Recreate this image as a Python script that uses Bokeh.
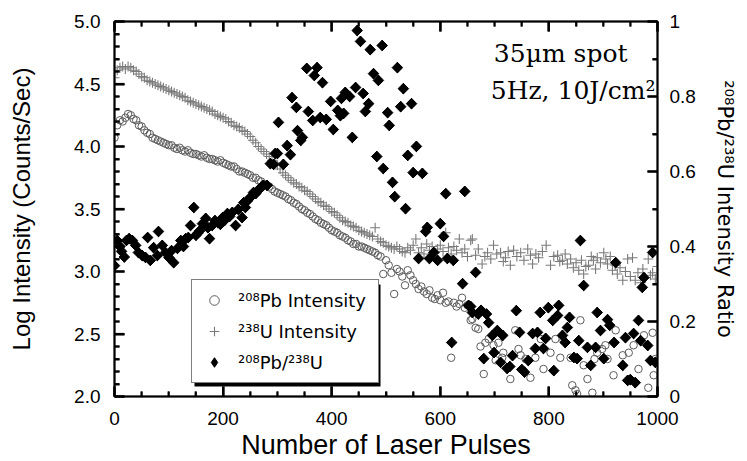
import math
from bokeh.plotting import figure
from bokeh.models import (Range1d, LinearAxis, FixedTicker, NumeralTickFormatter,
                          Legend, LegendItem, Label, BoxAnnotation, Title, ColumnDataSource)
from bokeh.embed import file_html
from bokeh.resources import INLINE

# ---------------- data ----------------
pb_pulse = [0, 5, 10, 15, 20, 25, 30, 35, 40, 45,
            50, 55, 60, 65, 70, 75, 80, 85, 90, 95,
            100, 105, 110, 115, 120, 125, 130, 135, 140, 145,
            150, 155, 160, 165, 170, 175, 180, 185, 190, 195,
            200, 205, 210, 215, 220, 225, 230, 235, 240, 245,
            250, 255, 260, 265, 270, 275, 280, 285, 290, 295,
            300, 305, 310, 315, 320, 325, 330, 335, 340, 345,
            350, 355, 360, 365, 370, 375, 380, 385, 390, 395,
            400, 405, 410, 415, 420, 425, 430, 435, 440, 445,
            450, 455, 460, 465, 470, 475, 480, 485, 490, 495,
            500, 505, 510, 515, 520, 525, 530, 535, 540, 545,
            550, 555, 560, 565, 570, 575, 580, 585, 590, 595,
            600, 605, 610, 615, 620, 625, 630, 635, 640, 645,
            650, 656, 659, 665, 670, 674, 680, 683, 689, 698,
            702, 707, 714, 716, 729, 738, 744, 748, 757, 766,
            775, 785, 790, 803, 812, 821, 827, 840, 843, 849,
            852, 858, 864, 871, 880, 884, 889, 898, 904, 908,
            919, 923, 936, 947, 956, 965, 975, 983, 991, 993,
            996]
pb_log = [4.07, 4.17, 4.21, 4.20, 4.23, 4.26, 4.25, 4.22, 4.21, 4.17,
          4.16, 4.13, 4.11, 4.10, 4.07, 4.06, 4.05, 4.04, 4.03, 4.02,
          4.01, 4.01, 3.99, 3.98, 3.99, 3.97, 3.96, 3.97, 3.95, 3.94,
          3.94, 3.93, 3.92, 3.93, 3.91, 3.90, 3.90, 3.89, 3.88, 3.89,
          3.87, 3.86, 3.85, 3.84, 3.84, 3.82, 3.80, 3.80, 3.79, 3.78,
          3.77, 3.75, 3.75, 3.73, 3.72, 3.70, 3.69, 3.68, 3.66, 3.64,
          3.63, 3.62, 3.61, 3.60, 3.58, 3.57, 3.55, 3.54, 3.52, 3.50,
          3.49, 3.47, 3.46, 3.44, 3.42, 3.41, 3.39, 3.38, 3.37, 3.35,
          3.33, 3.32, 3.31, 3.29, 3.28, 3.27, 3.25, 3.24, 3.22, 3.22,
          3.20, 3.20, 3.19, 3.18, 3.17, 3.16, 3.15, 3.13, 3.12, 2.98,
          3.09, 3.05, 2.99, 2.82, 3.02, 3.00, 2.96, 2.89, 3.01, 2.97,
          2.93, 2.90, 2.86, 2.88, 2.84, 2.82, 2.85, 2.79, 2.78, 2.81,
          2.77, 2.83, 2.75, 2.76, 2.31, 2.75, 2.72, 2.74, 2.79, 2.71,
          2.73, 2.61, 2.62, 2.55, 2.54, 2.40, 2.18, 2.43, 2.46, 2.41,
          2.29, 2.43, 2.31, 2.35, 2.14, 2.53, 2.38, 2.33, 2.30, 2.15,
          2.31, 2.46, 2.22, 2.35, 2.46, 2.31, 2.45, 2.31, 2.09, 2.05,
          2.02, 2.61, 2.25, 2.14, 2.03, 2.30, 2.35, 2.38, 2.41, 2.30,
          2.17, 2.53, 2.33, 2.35, 2.41, 2.22, 2.49, 2.07, 2.51, 2.17,
          2.30]

u_pulse = [0, 5, 10, 15, 20, 25, 30, 35, 40, 45,
           50, 55, 60, 65, 70, 75, 80, 85, 90, 95,
           100, 105, 110, 115, 120, 125, 130, 135, 140, 145,
           150, 155, 160, 165, 170, 175, 180, 185, 190, 195,
           200, 205, 210, 215, 220, 225, 230, 235, 240, 245,
           250, 255, 260, 265, 270, 275, 280, 285, 290, 295,
           300, 305, 310, 315, 320, 325, 330, 335, 340, 345,
           350, 355, 360, 365, 370, 375, 380, 385, 390, 395,
           400, 405, 410, 415, 420, 425, 430, 435, 440, 445,
           450, 455, 460, 465, 470, 475, 480, 485, 490, 495,
           500, 505, 510, 515, 520, 525, 530, 535, 540, 545,
           550, 555, 560, 565, 570, 575, 580, 585, 590, 595,
           600, 605, 610, 615, 620, 625, 630, 635, 640, 645,
           650, 656, 659, 665, 670, 677, 682, 687, 693, 698,
           704, 711, 716, 720, 725, 729, 735, 741, 748, 754,
           761, 766, 770, 776, 781, 788, 795, 803, 809, 816,
           820, 825, 830, 834, 840, 845, 850, 855, 860, 864,
           868, 873, 878, 882, 886, 889, 895, 901, 905, 908,
           913, 917, 922, 926, 931, 936, 941, 945, 950, 954,
           959, 964, 969, 973, 978, 983, 987, 991, 996, 1000]
u_log = [4.55, 4.61, 4.63, 4.64, 4.62, 4.64, 4.63, 4.61, 4.60, 4.58,
         4.56, 4.55, 4.53, 4.52, 4.51, 4.50, 4.49, 4.48, 4.47, 4.46,
         4.45, 4.44, 4.43, 4.42, 4.41, 4.40, 4.39, 4.37, 4.36, 4.35,
         4.34, 4.33, 4.32, 4.31, 4.30, 4.29, 4.28, 4.26, 4.25, 4.24,
         4.23, 4.22, 4.20, 4.19, 4.17, 4.16, 4.15, 4.13, 4.12, 4.10,
         4.08, 4.05, 4.03, 4.00, 3.98, 3.96, 3.94, 3.92, 3.89, 3.87,
         3.85, 3.82, 3.79, 3.77, 3.75, 3.73, 3.71, 3.70, 3.68, 3.67,
         3.65, 3.64, 3.62, 3.60, 3.58, 3.56, 3.55, 3.53, 3.52, 3.50,
         3.48, 3.47, 3.45, 3.43, 3.41, 3.40, 3.39, 3.37, 3.36, 3.35,
         3.33, 3.32, 3.31, 3.30, 3.29, 3.28, 3.35, 3.26, 3.24, 3.23,
         3.21, 3.20, 3.19, 3.18, 3.20, 3.18, 3.16, 3.15, 3.19, 3.17,
         3.21, 3.26, 3.15, 3.19, 3.14, 3.22, 3.17, 3.20, 3.15, 3.18,
         3.21, 3.16, 3.31, 3.19, 3.14, 3.20, 3.17, 3.26, 3.15, 3.18,
         3.12, 3.25, 3.26, 3.13, 3.18, 3.06, 3.12, 3.15, 3.10, 3.21,
         3.14, 3.15, 3.08, 3.11, 3.16, 3.05, 3.17, 3.12, 3.15, 3.09,
         3.18, 3.13, 3.06, 3.14, 3.11, 3.16, 3.21, 3.05, 3.12, 3.13,
         3.08, 3.09, 3.14, 3.06, 3.10, 3.03, 3.07, 3.01, 3.09, 2.98,
         3.04, 3.05, 3.12, 3.09, 3.02, 3.11, 3.07, 3.15, 3.10, 3.06,
         3.12, 3.01, 3.05, 2.98, 3.03, 2.93, 3.00, 3.10, 2.96, 3.11,
         2.93, 2.99, 2.91, 3.02, 2.95, 3.10, 2.97, 2.99, 2.94, 3.04]

ratio_pulse = [0, 5, 10, 13, 18, 22, 27, 33, 39, 44,
               51, 57, 61, 66, 72, 79, 81, 88, 94, 100,
               105, 109, 116, 122, 127, 131, 136, 140, 146, 150,
               153, 157, 162, 168, 172, 175, 180, 185, 190, 195,
               199, 203, 208, 212, 217, 223, 228, 235, 238, 241,
               245, 250, 256, 260, 265, 269, 274, 281, 287, 293,
               296, 300, 302, 311, 318, 324, 327, 335, 337, 343,
               346, 354, 357, 365, 368, 373, 379, 383, 390, 398,
               403, 411, 416, 418, 422, 425, 433, 438, 444, 447,
               453, 458, 462, 468, 471, 477, 483, 486, 493, 495,
               503, 506, 512, 516, 521, 527, 532, 536, 540, 547,
               550, 556, 560, 567, 573, 576, 580, 588, 595, 600,
               606, 610, 613, 621, 624, 641, 645, 652, 656, 659,
               665, 670, 675, 680, 685, 689, 696, 699, 705, 711,
               715, 723, 728, 733, 740, 746, 750, 755, 762, 770,
               775, 779, 784, 790, 794, 799, 807, 809, 816, 818,
               825, 830, 834, 838, 846, 852, 855, 858, 864, 871,
               877, 886, 889, 895, 901, 908, 912, 920, 923, 936,
               941, 945, 950, 956, 959, 965, 969, 972, 975, 982,
               987, 991, 996]
ratio_val = [0.349, 0.416, 0.400, 0.387, 0.372, 0.416, 0.421, 0.416, 0.403, 0.384,
             0.376, 0.371, 0.424, 0.363, 0.397, 0.376, 0.440, 0.403, 0.384, 0.371,
             0.389, 0.357, 0.395, 0.416, 0.400, 0.421, 0.424, 0.456, 0.504, 0.430,
             0.435, 0.442, 0.461, 0.475, 0.450, 0.421, 0.456, 0.469, 0.464, 0.459,
             0.477, 0.470, 0.488, 0.480, 0.491, 0.456, 0.499, 0.477, 0.517, 0.504,
             0.522, 0.531, 0.544, 0.541, 0.550, 0.557, 0.563, 0.563, 0.621, 0.619,
             0.648, 0.648, 0.731, 0.619, 0.669, 0.645, 0.797, 0.771, 0.709, 0.683,
             0.691, 0.875, 0.760, 0.736, 0.856, 0.877, 0.744, 0.837, 0.739, 0.787,
             0.712, 0.763, 0.749, 0.795, 0.755, 0.811, 0.800, 0.691, 0.824, 0.976,
             0.947, 0.808, 0.760, 0.781, 0.925, 0.861, 0.640, 0.843, 0.936, 0.608,
             0.757, 0.723, 0.571, 0.533, 0.877, 0.773, 0.821, 0.501, 0.643, 0.781,
             0.597, 0.667, 0.368, 0.595, 0.440, 0.451, 0.368, 0.384, 0.363, 0.461,
             0.427, 0.541, 0.368, 0.144, 0.363, 0.301, 0.547, 0.243, 0.240, 0.224,
             0.331, 0.220, 0.230, 0.101, 0.220, 0.197, 0.163, 0.117, 0.176, 0.091,
             0.163, 0.075, 0.080, 0.109, 0.229, 0.171, 0.072, 0.065, 0.096, 0.168,
             0.128, 0.171, 0.224, 0.128, 0.155, 0.237, 0.203, 0.069, 0.216, 0.243,
             0.163, 0.144, 0.184, 0.211, 0.104, 0.101, 0.149, 0.416, 0.296, 0.131,
             0.083, 0.131, 0.224, 0.176, 0.101, 0.205, 0.190, 0.144, 0.357, 0.083,
             0.157, 0.043, 0.045, 0.168, 0.037, 0.203, 0.149, 0.291, 0.317, 0.136,
             0.096, 0.384, 0.091]

x_lo, x_hi = 0, 1000
y_lo, y_hi = 2.0, 5.0
r_lo, r_hi = 0.0, 1.0
x_ticks = [0, 200, 400, 600, 800, 1000]
x_minor = [50, 100, 150, 250, 300, 350, 450, 500, 550, 650, 700, 750, 850, 900, 950]
left_ticks = [2.0, 2.5, 3.0, 3.5, 4.0, 4.5, 5.0]
left_minor = [2.1, 2.2, 2.3, 2.4, 2.6, 2.7, 2.8, 2.9, 3.1, 3.2, 3.3, 3.4, 3.6, 3.7, 3.8, 3.9,
              4.1, 4.2, 4.3, 4.4, 4.6, 4.7, 4.8, 4.9]
right_ticks = [0, 0.2, 0.4, 0.6, 0.8, 1.0]
right_minor = [0.1, 0.3, 0.5, 0.7, 0.9]

legend_labels = ["²⁰⁸Pb Intensity", "²³⁸U Intensity", "²⁰⁸Pb/²³⁸U"]
note_1 = "35µm spot"
note_2 = "5Hz, 10J/cm²"
x_title = "Number of Laser Pulses"
y_title = "Log Intensity (Counts/Sec)"
y2_title = "²⁰⁸Pb/²³⁸U Intensity Ratio"

SANS = "Liberation Sans"
SUPS = "DejaVu Sans"

W, H = 745, 460
B_LEFT, B_RIGHT, B_TOP, B_BOTTOM = 114, 88, 21, 64
FRAME_W = W - B_LEFT - B_RIGHT
FRAME_H = H - B_TOP - B_BOTTOM

p = figure(width=W, height=H, output_backend="svg", toolbar_location=None,
           x_range=Range1d(x_lo, x_hi), y_range=Range1d(y_lo, y_hi),
           min_border_left=B_LEFT, min_border_right=B_RIGHT,
           min_border_top=B_TOP, min_border_bottom=B_BOTTOM)
p.extra_y_ranges = {"ratio": Range1d(r_lo, r_hi)}
p.xgrid.visible = False
p.ygrid.visible = False
p.outline_line_color = "black"
p.outline_line_width = 1.5
p.background_fill_color = "white"
p.border_fill_color = "white"


def style(ax, size="19px"):
    ax.axis_line_width = 2
    ax.axis_line_color = "black"
    ax.major_tick_in = 10
    ax.major_tick_out = 0
    ax.minor_tick_in = 5
    ax.minor_tick_out = 0
    ax.major_tick_line_width = 2.2
    ax.minor_tick_line_width = 1.8
    ax.major_tick_line_color = "black"
    ax.minor_tick_line_color = "black"
    ax.major_label_text_font = SANS
    ax.major_label_text_font_size = size
    ax.major_label_text_color = "black"
    ax.axis_label_text_font = SANS
    ax.axis_label_text_font_style = "normal"
    ax.axis_label_text_color = "black"


xa = p.xaxis[0]
xa.ticker = FixedTicker(ticks=x_ticks, minor_ticks=x_minor)
style(xa)
xa.major_label_standoff = 15

ya = p.yaxis[0]
ya.ticker = FixedTicker(ticks=left_ticks, minor_ticks=left_minor)
ya.formatter = NumeralTickFormatter(format="0.0")
style(ya)
ya.major_label_standoff = 14
ya.axis_label = y_title
ya.axis_label_text_font_size = "24px"
ya.axis_label_standoff = 36

ra = LinearAxis(y_range_name="ratio", ticker=FixedTicker(ticks=right_ticks, minor_ticks=right_minor),
                formatter=NumeralTickFormatter(format="0.[0]"))
style(ra)
ra.major_label_standoff = 12
ra.axis_label = y2_title
ra.axis_label_text_font = SUPS
ra.axis_label_text_font_size = "21px"
ra.axis_label_standoff = 14
p.add_layout(ra, "right")

ta = LinearAxis(ticker=FixedTicker(ticks=x_ticks, minor_ticks=x_minor))
style(ta, size="0px")
ta.major_label_standoff = 0
ta.major_label_text_alpha = 0
p.add_layout(ta, "above")

xt = Title(text=x_title, align="center", offset=21, text_font=SANS, text_font_size="27px",
           text_font_style="normal", text_color="black", standoff=1)
p.add_layout(xt, "below")

# inward tick marks drawn through the plot's scales (tick length given in pixels)
MAJ, MIN = 10, 5
dx = (x_hi - x_lo) / FRAME_W
dy = (y_hi - y_lo) / FRAME_H


def vticks(xs, y0, length, width):
    src = ColumnDataSource(dict(x0=xs, y0=[y0] * len(xs), x1=xs, y1=[y0 + length] * len(xs)))
    p.segment(x0="x0", y0="y0", x1="x1", y1="y1", source=src,
              line_color="black", line_width=width, level="overlay")


def hticks(ys, x0, length, width, **kw):
    src = ColumnDataSource(dict(x0=[x0] * len(ys), y0=ys, x1=[x0 + length] * len(ys), y1=ys))
    p.segment(x0="x0", y0="y0", x1="x1", y1="y1", source=src,
              line_color="black", line_width=width, level="overlay", **kw)


vticks(x_ticks, y_lo, MAJ * dy, 2.2)
vticks(x_minor, y_lo, MIN * dy, 1.8)
vticks(x_ticks, y_hi, -MAJ * dy, 2.2)
vticks(x_minor, y_hi, -MIN * dy, 1.8)
hticks(left_ticks, x_lo, MAJ * dx, 2.2)
hticks(left_minor, x_lo, MIN * dx, 1.8)
hticks(right_ticks, x_hi, -MAJ * dx, 2.2, y_range_name="ratio")
hticks(right_minor, x_hi, -MIN * dx, 1.8, y_range_name="ratio")

r_pb = p.scatter(pb_pulse, pb_log, marker="circle", size=7.5, fill_color=None,
                 line_color="#5c5c5c", line_width=1)
r_u = p.scatter(u_pulse, u_log, marker="cross", size=10, line_color="#7a7a7a", line_width=1.1)
# legend key shape (diamond); hidden in the plot under the rotated squares
r_ratio_key = p.scatter(ratio_pulse, ratio_val, marker="diamond", size=10.5,
                        fill_color="black", line_color="black", y_range_name="ratio")
r_ratio = p.scatter(ratio_pulse, ratio_val, marker="square", angle=math.pi / 4, size=7.5,
                    fill_color="black", line_color="black", y_range_name="ratio")

LEG_X, LEG_Y, LEG_W, LEG_H, SH = 77, 13, 186, 102, 3
shadow = BoxAnnotation(left=LEG_X + SH, right=LEG_X + LEG_W + SH,
                       bottom=LEG_Y - SH, top=LEG_Y + LEG_H - SH,
                       left_units="screen", right_units="screen",
                       bottom_units="screen", top_units="screen",
                       fill_color="black", fill_alpha=1, line_color=None)
p.add_layout(shadow)

legend = Legend(items=[LegendItem(label=legend_labels[0], renderers=[r_pb]),
                       LegendItem(label=legend_labels[1], renderers=[r_u]),
                       LegendItem(label=legend_labels[2], renderers=[r_ratio_key])],
                location=(LEG_X, LEG_Y))
legend.label_text_font = SUPS
legend.label_text_font_size = "18px"
legend.label_text_color = "black"
legend.border_line_color = "black"
legend.border_line_width = 1.5
legend.background_fill_color = "white"
legend.background_fill_alpha = 1
legend.padding = 8
legend.spacing = 7
legend.margin = 0
legend.glyph_width = 28
legend.glyph_height = 24
legend.label_height = 24
legend.label_width = 132
legend.label_standoff = 10
p.add_layout(legend)

p.add_layout(Label(x=513, y=343, x_units="screen", y_units="screen", text=note_1,
                   text_align="right", text_baseline="alphabetic",
                   text_font="DejaVu Serif", text_font_size="25px", text_color="black"))
p.add_layout(Label(x=541, y=306, x_units="screen", y_units="screen", text=note_2,
                   text_align="right", text_baseline="alphabetic",
                   text_font="DejaVu Serif", text_font_size="25px", text_color="black"))

open("out.html", "w").write(file_html(p, INLINE))
